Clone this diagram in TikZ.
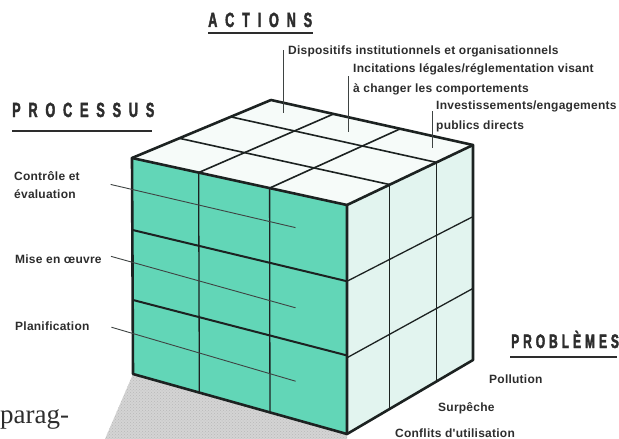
\documentclass[tikz,border=0pt]{standalone}
\usepackage{fontspec}
\setmainfont{Liberation Sans}
\newfontfamily\lblfont{Liberation Sans}[LetterSpace=2]
\newfontfamily\headfont{Liberation Sans}[FakeStretch=0.62,LetterSpace=38,FakeBold=2]
\newfontfamily\probfont{Liberation Sans}[FakeStretch=0.62,LetterSpace=20,FakeBold=2]
\newfontfamily\pagefont{Liberation Serif}
\usetikzlibrary{calc,patterns}
\definecolor{frontc}{RGB}{98,214,183}
\definecolor{rightc}{RGB}{226,244,239}
\definecolor{topc}{RGB}{246,251,249}
\definecolor{inkc}{RGB}{28,34,33}
\definecolor{textc}{RGB}{45,45,45}
\definecolor{shadowc}{RGB}{212,212,212}
\tikzset{
  lbl/.style={font=\lblfont\bfseries\fontsize{12}{14}\selectfont, text=textc, inner sep=0pt, anchor=base west},
  headlbl/.style={font=\headfont\bfseries\fontsize{20.5}{24}\selectfont, text=textc, inner sep=0pt, anchor=base west},
  problbl/.style={font=\probfont\bfseries\fontsize{19.5}{22}\selectfont, text=textc, inner sep=0pt, anchor=base west},
  outline/.style={draw=inkc, line width=2.6pt, line join=round, line cap=round},
  rowline/.style={draw=inkc, line width=2pt},
  colline/.style={draw=inkc, line width=1.3pt},
  gridline/.style={draw=inkc, line width=1.6pt},
  leader/.style={draw=inkc!85, line width=0.9pt},
  uline/.style={draw=textc, line width=2.2pt}
}
\begin{document}
\begin{tikzpicture}[x=1pt,y=-1pt]
\useasboundingbox (0,0) rectangle (619,439);
% cube corners
\coordinate (LT) at (132,158);
\coordinate (FT) at (347,205);
\coordinate (RT) at (473,145);
\coordinate (BT) at (271,100);
\coordinate (LB) at (133,374);
\coordinate (FB) at (347,434);
\coordinate (RB) at (473,360);
% shadow
\coordinate (S1) at (105,439);
\coordinate (S2) at (347,439);
\fill[shadowc] (LB) -- (FB) -- (S2) -- (S1) -- cycle;
\fill[pattern=crosshatch dots, pattern color=gray!55] (LB) -- (FB) -- (S2) -- (S1) -- cycle;
% faces
\fill[frontc] (LT) -- (FT) -- (FB) -- (LB) -- cycle;
\fill[rightc] (FT) -- (RT) -- (RB) -- (FB) -- cycle;
\fill[topc] (LT) -- (BT) -- (RT) -- (FT) -- cycle;
% front grid
\foreach \u in {0.31,0.64}
  \draw[colline] ($(LT)!\u!(FT)$) -- ($(LB)!\u!(FB)$);
\foreach \v in {0.333,0.657}
  \draw[rowline] ($(LT)!\v!(LB)$) -- ($(FT)!\v!(FB)$);
% right grid
\foreach \u in {0.34,0.71}
  \draw[colline] ($(FT)!\u!(RT)$) -- ($(FB)!\u!(RB)$);
\foreach \v in {0.333,0.667}
  \draw[colline] ($(FT)!\v!(FB)$) -- ($(RT)!\v!(RB)$);
% top grid
\foreach \t in {0.31,0.64}
  \draw[gridline] ($(LT)!\t!(FT)$) -- ($(BT)!\t!(RT)$);
\foreach \t in {0.34,0.71}
  \draw[gridline] ($(LT)!\t!(BT)$) -- ($(FT)!\t!(RT)$);
% outline
\draw[outline] (LB) -- (LT) -- (BT) -- (RT) -- (RB) -- (FB) -- cycle;
\draw[outline] (LT) -- (FT) -- (FB);
\draw[outline] (FT) -- (RT);
% headings
\node[headlbl] (actions) at (208,27) {ACTIONS};
\draw[uline] (208,33) -- (313,33);
\node[headlbl] (processus) at (12,117) {PROCESSUS};
\draw[uline] (12,131) -- (152,131);
\node[problbl] (problemes) at (511,348) {PROBLÈMES};
\draw[uline] (510,357) -- (617,357);
% action labels
\node[lbl] (disp) at (288,54) {Dispositifs institutionnels et organisationnels};
\node[lbl] (incit1) at (353,72) {Incitations légales/réglementation visant};
\node[lbl] (incit2) at (353,92) {à changer les comportements};
\node[lbl] (inv1) at (436,109) {Investissements/engagements};
\node[lbl] (inv2) at (436,129) {publics directs};
\coordinate (d1) at (283,50);  \coordinate (d2) at (283,113);
\coordinate (i1) at (348,76);  \coordinate (i2) at (348,132);
\coordinate (v1) at (432,111); \coordinate (v2) at (432,148);
\draw[leader] (d1) -- (d2);
\draw[leader] (i1) -- (i2);
\draw[leader] (v1) -- (v2);
% process labels
\node[lbl] (ctrl1) at (14,180) {Contrôle et};
\node[lbl] (ctrl2) at (14,198) {évaluation};
\node[lbl] (mise) at (15,263) {Mise en œuvre};
\node[lbl] (plan) at (15,330) {Planification};
\coordinate (c1) at ($ ($(LT)!-0.1!(FT)$)!0.145!($(LB)!-0.1!(FB)$) $);
\coordinate (c2) at ($ ($(LT)!0.76!(FT)$)!0.15!($(LB)!0.76!(FB)$) $);
\coordinate (m1) at ($ ($(LT)!-0.1!(FT)$)!0.48!($(LB)!-0.1!(FB)$) $);
\coordinate (m2) at ($ ($(LT)!0.76!(FT)$)!0.505!($(LB)!0.76!(FB)$) $);
\coordinate (p1) at ($ ($(LT)!-0.1!(FT)$)!0.81!($(LB)!-0.1!(FB)$) $);
\coordinate (p2) at ($ ($(LT)!0.76!(FT)$)!0.83!($(LB)!0.76!(FB)$) $);
\draw[leader] (c1) -- (c2);
\draw[leader] (m1) -- (m2);
\draw[leader] (p1) -- (p2);
% problem labels
\node[lbl] (poll) at (489,383) {Pollution};
\node[lbl] (surp) at (438,411) {Surpêche};
\node[lbl] (confl) at (395,437) {Conflits d'utilisation};
% page text
\node[font=\pagefont\fontsize{27}{30}\selectfont, text=textc, inner sep=0pt, anchor=base west] (parag) at (0,423) {parag-};
\end{tikzpicture}
\end{document}
